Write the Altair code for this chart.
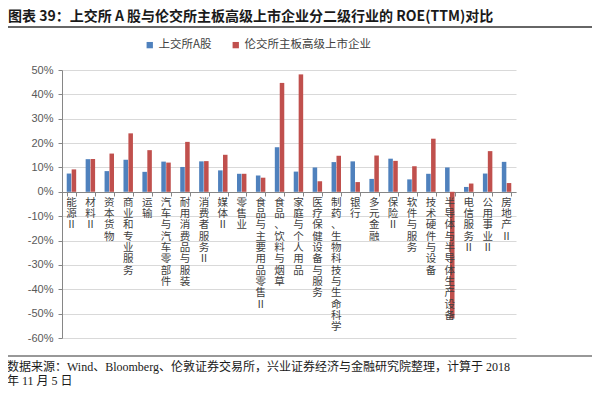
import altair as alt
import pandas as pd

# ---- data ----
categories = ["能源Ⅱ", "材料Ⅱ", "资本货物", "商业和专业服务", "运输", "汽车与汽车零部件",
              "耐用消费品与服装", "消费者服务Ⅱ", "媒体Ⅱ", "零售业", "食品与主要用品零售Ⅱ",
              "食品、饮料与烟草", "家庭与个人用品", "医疗保健设备与服务",
              "制药、生物科技与生命科学", "银行", "多元金融", "保险Ⅱ", "软件与服务",
              "技术硬件与设备", "半导体与半导体生产设备", "电信服务Ⅱ", "公用事业Ⅱ", "房地产Ⅱ"]
series = ["上交所A股", "伦交所主板高级上市企业"]
sse_a = [7.5, 13.4, 8.5, 13.2, 8.2, 12.4, 10.2, 12.5, 8.8, 7.4, 6.7, 18.3,
         8.3, 10.0, 12.2, 12.5, 5.3, 13.6, 5.1, 7.4, 10.0, 2.0, 7.5, 12.3]
lse = [9.2, 13.5, 15.7, 24.0, 17.1, 12.0, 20.5, 12.6, 15.2, 7.4, 5.8, 44.7,
       48.2, 4.3, 14.8, 4.0, 14.9, 12.7, 10.5, 21.8, -52.0, 3.4, 16.7, 3.6]
y_ticks = [-60, -50, -40, -30, -20, -10, 0, 10, 20, 30, 40, 50]

title_text = "图表 39：上交所 A 股与伦交所主板高级上市企业分二级行业的 ROE(TTM)对比"
footer_text = "数据来源：Wind、Bloomberg、伦敦证券交易所，兴业证券经济与金融研究院整理，计算于 2018\n年 11 月 5 日"

source = pd.DataFrame({
    "行业": categories * 2,
    "系列": [series[0]] * len(categories) + [series[1]] * len(categories),
    "ROE": sse_a + lse,
})
labels_df = pd.DataFrame({"行业": categories, "竖排": ["\n".join(list(c)) for c in categories]})

W, H = 454, 268
CJK = "Noto Sans CJK SC"

color = alt.Color(
    "系列:N",
    scale=alt.Scale(domain=series, range=["#4F81BD", "#C0504D"]),
    legend=alt.Legend(title=None, orient="none", legendX=82, legendY=-31,
                      direction="horizontal", symbolType="square", symbolSize=40,
                      symbolStrokeWidth=0, labelFontSize=11.5, labelFont=CJK,
                      labelColor="#404040", columnPadding=18, labelOffset=3),
)

x_scale = alt.Scale(paddingInner=0.5, paddingOuter=0.25)
x_axis = alt.Axis(title=None, labels=False, ticks=True, tickBand="extent",
                  tickSize=4, tickColor="#868686", domainColor="#868686",
                  grid=False, offset=-146)
y_scale = alt.Scale(domain=[-60, 50], nice=False, zero=False)
y_axis = alt.Axis(title=None, values=y_ticks, labelExpr="datum.value + '%'",
                  labelFont="Liberation Sans", labelFontSize=11, labelOverlap=False,
                  labelColor="#595959", labelPadding=5, tickSize=4,
                  tickColor="#868686", domainColor="#868686",
                  gridColor="#d9d9d9", grid=True)

bars = alt.Chart(source).mark_bar().encode(
    x=alt.X("行业:N", sort=categories, scale=x_scale, axis=x_axis),
    xOffset=alt.XOffset("系列:N", sort=series, scale=alt.Scale(paddingInner=0.08)),
    y=alt.Y("ROE:Q", scale=y_scale, axis=y_axis),
    color=color,
)

cat_text = alt.Chart(labels_df).mark_text(
    lineBreak="\n", baseline="top", align="center", dy=6, fontSize=10.5,
    lineHeight=11.3, font=CJK, color="#404040"
).encode(
    x=alt.X("行业:N", sort=categories, scale=x_scale, axis=x_axis),
    y=alt.YDatum(0, type="quantitative", scale=y_scale, axis=y_axis),
    text="竖排:N",
)

title_mark = alt.Chart(pd.DataFrame({"t": [title_text]})).mark_text(
    align="left", baseline="middle", fontSize=14, fontWeight="bold", font=CJK,
    color="#1a1a1a"
).encode(text="t:N", x=alt.value(-54), y=alt.value(-53))

underline = alt.Chart(pd.DataFrame({"a": [0]})).mark_rule(
    color="#333333", strokeWidth=1.3
).encode(x=alt.value(-54), x2=alt.value(530), y=alt.value(-43))

footer_rule = alt.Chart(pd.DataFrame({"a": [0]})).mark_rule(
    color="#333333", strokeWidth=1.2
).encode(x=alt.value(-54), x2=alt.value(530), y=alt.value(286))

footer_mark = alt.Chart(pd.DataFrame({"t": [footer_text]})).mark_text(
    align="left", baseline="top", fontSize=12, lineHeight=14, lineBreak="\n",
    font="Liberation Serif, Noto Sans CJK SC", color="#1a1a1a"
).encode(text="t:N", x=alt.value(-55), y=alt.value(292))

chart = alt.layer(bars, cat_text, title_mark, underline, footer_rule, footer_mark).properties(
    width=W, height=H,
    autosize=alt.AutoSizeParams(type="none"),
    padding={"left": 54, "top": 62, "right": 76, "bottom": 51},
).configure_view(stroke=None)

chart.save("out.html", embed_options={"renderer": "svg", "actions": False})
